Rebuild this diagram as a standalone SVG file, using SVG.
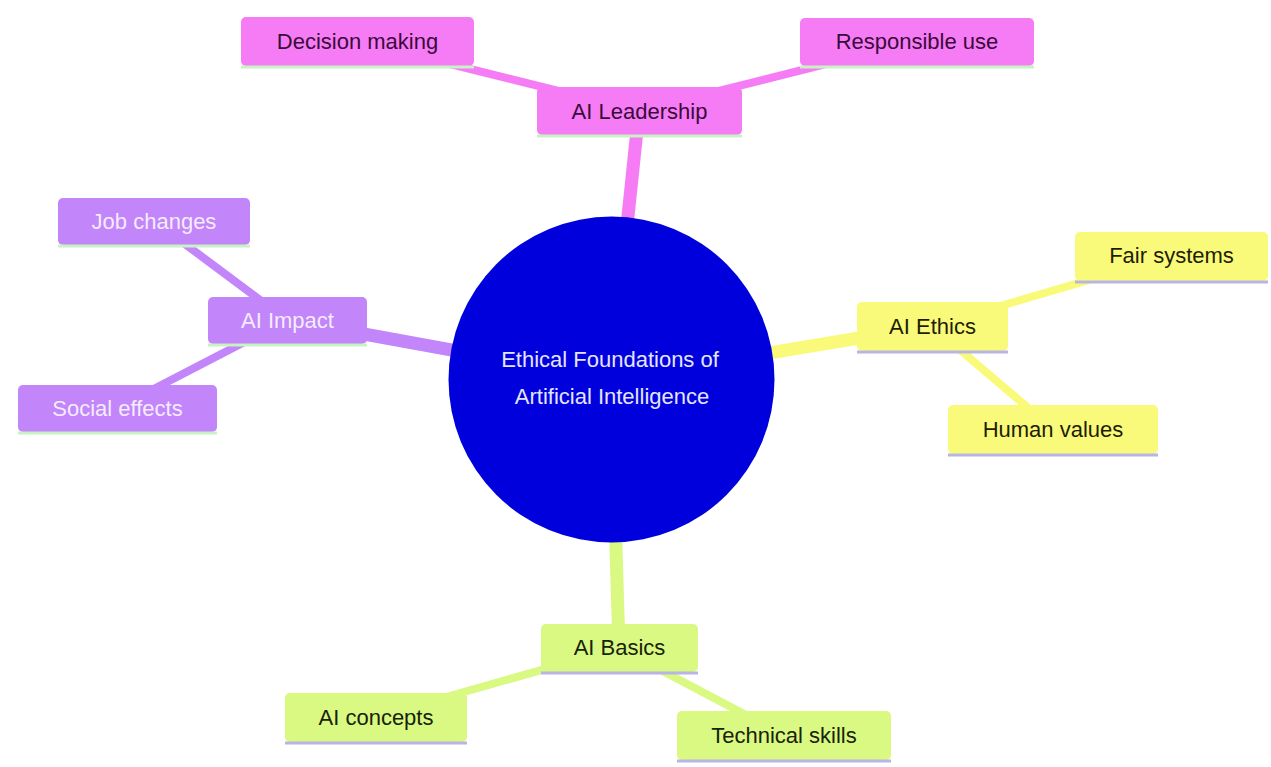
<svg xmlns="http://www.w3.org/2000/svg" width="1271" height="767" viewBox="0 0 1271 767">
<style>
text{font-family:"Liberation Sans",Arial,sans-serif;font-size:22px;text-anchor:middle}
.e1{stroke-width:13;fill:none}
.e2{stroke-width:8;fill:none}
.pink{fill:#F67CF6}.pinkS{stroke:#F67CF6}
.purp{fill:#C285FA}.purpS{stroke:#C285FA}
.yel{fill:#FAFA7A}.yelS{stroke:#FAFA7A}
.grn{fill:#DAF982}.grnS{stroke:#DAF982}
.lg{stroke:#C8F2C4;stroke-width:3}
.lv{stroke:#B8B4E6;stroke-width:3}
.tp{fill:#3A0A3A}.tu{fill:#F4ECFF}.ty{fill:#1E1E05}.tg{fill:#17230A}
</style>
<rect width="1271" height="767" fill="#ffffff"/>
<g id="connectors">
<line class="e1 pinkS" x1="611" y1="379" x2="639" y2="111"/>
<line class="e2 pinkS" x1="639" y1="111" x2="357" y2="41"/>
<line class="e2 pinkS" x1="639" y1="111" x2="917" y2="41"/>
<line class="e1 purpS" x1="611" y1="379" x2="287" y2="320"/>
<line class="e2 purpS" x1="287" y1="320" x2="154" y2="221"/>
<line class="e2 purpS" x1="287" y1="320" x2="117" y2="408"/>
<line class="e1 yelS" x1="611" y1="379" x2="932" y2="326"/>
<line class="e2 yelS" x1="932" y1="326" x2="1171" y2="256"/>
<line class="e2 yelS" x1="932" y1="326" x2="1053" y2="429"/>
<line class="e1 grnS" x1="611" y1="379" x2="619" y2="648"/>
<line class="e2 grnS" x1="619" y1="648" x2="376" y2="717"/>
<line class="e2 grnS" x1="619" y1="648" x2="784" y2="735"/>
</g>
<g id="root">
<circle cx="611.5" cy="379.5" r="163" fill="#0000DC"/>
<text x="610" y="367" fill="#E4E4FF">Ethical Foundations of</text>
<text x="612" y="404" fill="#E4E4FF">Artificial Intelligence</text>
</g>
<g id="ai-leadership">
<rect class="pink" x="537" y="87" width="205" height="48" rx="5"/>
<line class="lg" x1="537" y1="136" x2="742" y2="136"/>
<text class="tp" x="639.5" y="119">AI Leadership</text>
</g>
<g id="decision-making">
<rect class="pink" x="241" y="17" width="233" height="49" rx="5"/>
<line class="lg" x1="241" y1="67" x2="474" y2="67"/>
<text class="tp" x="357.5" y="49">Decision making</text>
</g>
<g id="responsible-use">
<rect class="pink" x="800" y="18" width="234" height="48" rx="5"/>
<line class="lg" x1="800" y1="67" x2="1034" y2="67"/>
<text class="tp" x="917" y="49">Responsible use</text>
</g>
<g id="ai-impact">
<rect class="purp" x="208" y="297" width="159" height="47" rx="5"/>
<line class="lg" x1="208" y1="345" x2="367" y2="345"/>
<text class="tu" x="287.5" y="328">AI Impact</text>
</g>
<g id="job-changes">
<rect class="purp" x="58" y="198" width="192" height="47" rx="5"/>
<line class="lg" x1="58" y1="246" x2="250" y2="246"/>
<text class="tu" x="154" y="229">Job changes</text>
</g>
<g id="social-effects">
<rect class="purp" x="18" y="385" width="199" height="47" rx="5"/>
<line class="lg" x1="18" y1="433" x2="217" y2="433"/>
<text class="tu" x="117.5" y="416">Social effects</text>
</g>
<g id="ai-ethics">
<rect class="yel" x="857" y="302" width="151" height="49" rx="5"/>
<line class="lv" x1="857" y1="352" x2="1008" y2="352"/>
<text class="ty" x="932.5" y="334">AI Ethics</text>
</g>
<g id="fair-systems">
<rect class="yel" x="1075" y="232" width="193" height="49" rx="5"/>
<line class="lv" x1="1075" y1="282" x2="1268" y2="282"/>
<text class="ty" x="1171.5" y="263">Fair systems</text>
</g>
<g id="human-values">
<rect class="yel" x="948" y="405" width="210" height="49" rx="5"/>
<line class="lv" x1="948" y1="455" x2="1158" y2="455"/>
<text class="ty" x="1053" y="437">Human values</text>
</g>
<g id="ai-basics">
<rect class="grn" x="541" y="624" width="157" height="48" rx="5"/>
<line class="lv" x1="541" y1="673" x2="698" y2="673"/>
<text class="tg" x="619.5" y="655">AI Basics</text>
</g>
<g id="ai-concepts">
<rect class="grn" x="285" y="693" width="182" height="49" rx="5"/>
<line class="lv" x1="285" y1="743" x2="467" y2="743"/>
<text class="tg" x="376" y="725">AI concepts</text>
</g>
<g id="technical-skills">
<rect class="grn" x="677" y="711" width="214" height="49" rx="5"/>
<line class="lv" x1="677" y1="761" x2="891" y2="761"/>
<text class="tg" x="784" y="743">Technical skills</text>
</g>
</svg>
